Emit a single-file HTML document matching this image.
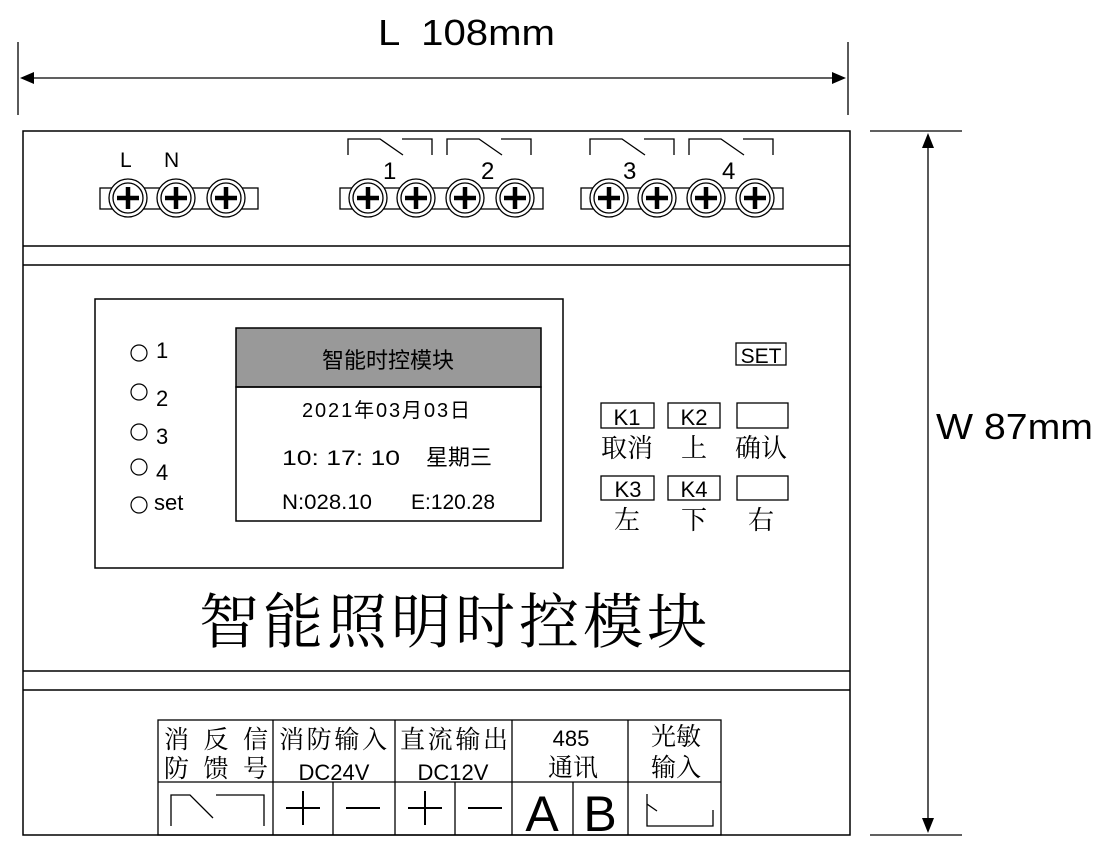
<!DOCTYPE html>
<html><head><meta charset="utf-8"><style>
html,body{margin:0;padding:0;background:#fff;}
svg{display:block;}
text{font-family:"Liberation Sans","Noto Sans CJK SC",sans-serif;fill:#000;}
.s{font-family:"Liberation Serif","Noto Serif CJK SC",serif;}
</style></head><body>
<svg width="1120" height="859" viewBox="0 0 1120 859" xmlns="http://www.w3.org/2000/svg">
<defs>
<g id="t">
<circle r="19" fill="#fff" stroke="#000" stroke-width="1.3"/>
<circle r="15" fill="none" stroke="#000" stroke-width="1.3"/>
<path d="M-11 0H11M0 -11V11" stroke="#000" stroke-width="4.5"/>
</g>
<g id="relay" fill="none" stroke="#000" stroke-width="1.3">
<path d="M0 155V139H32L55 155M54 139H84V155"/>
</g>
</defs>
<g stroke="#000" stroke-width="1.3" fill="none">
<line x1="18" y1="42" x2="18" y2="115"/>
<line x1="848" y1="42" x2="848" y2="115"/>
<line x1="28" y1="78" x2="838" y2="78"/>
<line x1="870" y1="131" x2="962" y2="131"/>
<line x1="870" y1="835" x2="962" y2="835"/>
<line x1="928" y1="142" x2="928" y2="824"/>
</g>
<path d="M20 78L34 72V84Z M846 78L832 72V84Z M928 133L922 148H934Z M928 833L922 818H934Z" fill="#000"/>
<text x="378" y="45" font-size="36" textLength="177" lengthAdjust="spacingAndGlyphs" xml:space="preserve">L  108mm</text>
<text x="936" y="439" font-size="36" textLength="157" lengthAdjust="spacingAndGlyphs">W 87mm</text>
<g stroke="#000" stroke-width="1.5" fill="none">
<rect x="23" y="131" width="827" height="704"/>
<line x1="23" y1="246" x2="850" y2="246"/>
<line x1="23" y1="265" x2="850" y2="265"/>
<line x1="23" y1="671" x2="850" y2="671"/>
<line x1="23" y1="690" x2="850" y2="690"/>
</g>
<g fill="#fff" stroke="#000" stroke-width="1.3">
<rect x="100" y="188" width="158" height="21"/>
<rect x="340" y="188" width="203" height="21"/>
<rect x="581" y="188" width="202" height="21"/>
</g>
<use href="#t" x="128" y="198"/><use href="#t" x="176" y="198"/><use href="#t" x="226" y="198"/>
<use href="#t" x="368" y="198"/><use href="#t" x="416" y="198"/><use href="#t" x="465" y="198"/><use href="#t" x="515" y="198"/>
<use href="#t" x="609" y="198"/><use href="#t" x="657" y="198"/><use href="#t" x="706" y="198"/><use href="#t" x="755" y="198"/>
<text x="120" y="167" font-size="21">L</text>
<text x="164" y="167" font-size="21">N</text>
<use href="#relay" x="348" y="0"/><use href="#relay" x="447" y="0"/>
<use href="#relay" x="590" y="0"/><use href="#relay" x="689" y="0"/>
<text x="383" y="179" font-size="24">1</text>
<text x="481" y="179" font-size="24">2</text>
<text x="623" y="179" font-size="24">3</text>
<text x="722" y="179" font-size="24">4</text>
<rect x="95" y="299" width="468" height="269" fill="none" stroke="#000" stroke-width="1.5"/>
<rect x="236" y="328" width="305" height="59" fill="#999" stroke="#000" stroke-width="1.5"/>
<rect x="236" y="387" width="305" height="134" fill="none" stroke="#000" stroke-width="1.5"/>
<text x="388" y="368" font-size="22" text-anchor="middle" fill="#222">智能时控模块</text>
<text x="302" y="417" font-size="20" textLength="168" lengthAdjust="spacing">2021年03月03日</text>
<text x="282" y="465" font-size="21" textLength="118" lengthAdjust="spacingAndGlyphs">10:  17:  10</text>
<text x="426" y="465" font-size="22">星期三</text>
<text x="282" y="509" font-size="21" textLength="90" lengthAdjust="spacingAndGlyphs">N:028.10</text>
<text x="411" y="509" font-size="21" textLength="84" lengthAdjust="spacingAndGlyphs">E:120.28</text>
<g fill="none" stroke="#000" stroke-width="1.2">
<circle cx="139" cy="353" r="8"/><circle cx="139" cy="392" r="8"/><circle cx="139" cy="432" r="8"/><circle cx="139" cy="467" r="8"/><circle cx="139" cy="505" r="8"/>
</g>
<text x="156" y="358" font-size="22">1</text>
<text x="156" y="406" font-size="22">2</text>
<text x="156" y="444" font-size="22">3</text>
<text x="156" y="480" font-size="22">4</text>
<text x="154" y="510" font-size="22">set</text>
<g fill="none" stroke="#000" stroke-width="1.3">
<rect x="736" y="343" width="50" height="22"/>
<rect x="601" y="403" width="53" height="25"/><rect x="668" y="403" width="52" height="25"/><rect x="737" y="403" width="51" height="25"/>
<rect x="601" y="476" width="53" height="24"/><rect x="668" y="476" width="52" height="24"/><rect x="737" y="476" width="51" height="24"/>
</g>
<text x="761" y="363" font-size="21" text-anchor="middle">SET</text>
<text x="627" y="425" font-size="22" text-anchor="middle">K1</text>
<text x="694" y="425" font-size="22" text-anchor="middle">K2</text>
<text x="628" y="497" font-size="22" text-anchor="middle">K3</text>
<text x="694" y="497" font-size="22" text-anchor="middle">K4</text>
<g font-size="26" text-anchor="middle">
<text class="s" x="627" y="457">取消</text>
<text class="s" x="694" y="457">上</text>
<text class="s" x="761" y="457">确认</text>
<text class="s" x="627" y="529">左</text>
<text class="s" x="694" y="529">下</text>
<text class="s" x="761" y="529">右</text>
</g>
<text class="s" x="455" y="643" font-size="60" text-anchor="middle" letter-spacing="4">智能照明时控模块</text>
<g fill="none" stroke="#000" stroke-width="1.3">
<rect x="158" y="720" width="563" height="115"/>
<line x1="158" y1="782" x2="721" y2="782"/>
<line x1="273" y1="720" x2="273" y2="835"/>
<line x1="395" y1="720" x2="395" y2="835"/>
<line x1="512" y1="720" x2="512" y2="835"/>
<line x1="628" y1="720" x2="628" y2="835"/>
<line x1="333" y1="782" x2="333" y2="835"/>
<line x1="455" y1="782" x2="455" y2="835"/>
<line x1="573" y1="782" x2="573" y2="835"/>
<path d="M171 826V795H190L213 818M216 795H264V826"/>
<path d="M647 794V804L657 811M647 804V826H713V810"/>
</g>
<g font-size="25">
<text class="s" x="164" y="748" textLength="104" lengthAdjust="spacing">消 反 信</text>
<text class="s" x="164" y="777" textLength="104" lengthAdjust="spacing">防 馈 号</text>
<text class="s" x="279" y="748" textLength="108" lengthAdjust="spacing">消防输入</text>
<text class="s" x="400" y="748" textLength="108" lengthAdjust="spacing">直流输出</text>
<text class="s" x="573" y="776" text-anchor="middle">通讯</text>
<text class="s" x="676" y="745" text-anchor="middle">光敏</text>
<text class="s" x="676" y="776" text-anchor="middle">输入</text>
</g>
<text x="334" y="780" font-size="22" text-anchor="middle">DC24V</text>
<text x="453" y="780" font-size="22" text-anchor="middle">DC12V</text>
<text x="571" y="746" font-size="22" text-anchor="middle">485</text>
<path d="M286 808H320M303 791V825M346 808H380M408 808H442M425 791V825M468 808H502" stroke="#000" stroke-width="2"/>
<text x="542" y="831" font-size="50" text-anchor="middle">A</text>
<text x="600" y="831" font-size="50" text-anchor="middle">B</text>
</svg>
</body></html>
